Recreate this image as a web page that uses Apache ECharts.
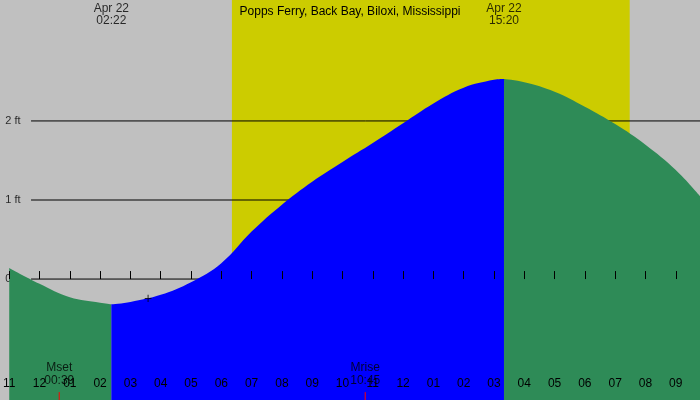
<!DOCTYPE html>
<html><head><meta charset="utf-8">
<script src="https://cdn.jsdelivr.net/npm/echarts@6/dist/echarts.min.js"></script>
<style>html,body{margin:0;padding:0;background:#c0c0c0}#c{width:700px;height:400px}</style>
</head><body><div id="c"></div>
<script>
// hours relative to Apr 22 00:00, tide height in ft
const fallingA = [[-1,0.14],[0,-0.06],[1,-0.23],[2,-0.30],[2.37,-0.32]];
const rising = [[2.37,-0.32],[3,-0.29],[4,-0.20],[5,-0.04],[6,0.20],[7,0.60],[8,0.94],[9,1.23],[10,1.48],[11,1.72],[12,1.97],[13,2.22],[14,2.42],[15,2.52],[15.33,2.53]];
const fallingB = [[15.33,2.53],[16,2.49],[17,2.37],[18,2.18],[19,1.96],[20,1.70],[21,1.38],[21.8,1.05]];
const ftLevels = [0,1,2];
const ftLabels = ['0 ft','1 ft','2 ft'];
const daylight = [6.35,19.48];
const tideEvents = [{h:2.37,text:'Apr 22\n02:22'},{h:15.33,text:'Apr 22\n15:20'}];
const moonEvents = [{h:0.65,text:'Mset\n00:39'},{h:10.75,text:'Mrise\n10:45'}];
const marker = [[3.58,-0.25]];
const title = 'Popps Ferry, Back Bay, Biloxi, Mississippi';
const YMIN=-1.53, YMAX=3.53, XMIN=-1, XMAX=21.8;

const ch = echarts.init(document.getElementById('c'));
const font = 'Liberation Sans, Arial, sans-serif';
const series = [];
series.push({type:'line',data:[],z:0,silent:true,
  markArea:{silent:true,itemStyle:{color:'#cccc00'},data:[[{xAxis:daylight[0]},{xAxis:daylight[1]}]]}});
ftLevels.forEach((v,i)=>{
  series.push({type:'line',z:1,symbol:'none',silent:true,lineStyle:{color:'#000',width:1},
    data:[[-0.28,v],[XMAX,v]],
    label:{show:false}});
});
series.push({type:'scatter',z:1,symbolSize:0,data:ftLevels.map((v,i)=>[XMIN,v,ftLabels[i]]),
  label:{show:true,position:'right',offset:[-9,0],formatter:p=>p.data[2],color:'#000',fontSize:11,fontFamily:font}});
const area=(d,c)=>({type:'line',z:2,smooth:0.4,symbol:'none',data:d,lineStyle:{width:0},
  areaStyle:{color:c,opacity:1,origin:'start'}});
series.push(area(fallingA,'#2e8b57'),area(rising,'#0000ff'),area(fallingB,'#2e8b57'));
series.push({type:'scatter',z:5,symbolSize:0,data:tideEvents.map(e=>[e.h,3.35,e.text]),
  label:{show:true,position:'inside',formatter:p=>p.data[2],color:'#000',fontSize:12,lineHeight:12,fontFamily:font}});
series.push({type:'scatter',z:5,symbolSize:0,data:moonEvents.map(e=>[e.h,-1.2,e.text]),
  label:{show:true,position:'inside',formatter:p=>p.data[2],color:'#000',fontSize:12,lineHeight:13,fontFamily:font}});
moonEvents.forEach(e=>series.push({type:'line',z:6,symbol:'none',lineStyle:{color:'#ff0000',width:1},data:[[e.h,YMIN],[e.h,YMIN+0.1]]}));
series.push({type:'scatter',z:6,symbolSize:0,data:marker,
  label:{show:true,position:'inside',formatter:'+',color:'#000',fontSize:14,fontFamily:font}});

ch.setOption({
  animation:false,backgroundColor:'#c0c0c0',
  title:{text:title,left:'center',top:1,textStyle:{fontSize:12,fontWeight:'normal',color:'#000',fontFamily:font}},
  grid:{left:0,right:0,top:0,bottom:0},
  xAxis:{type:'value',min:XMIN,max:XMAX,interval:1,
    axisLine:{show:false},splitLine:{show:false},
    axisTick:{show:true,inside:true,length:8,lineStyle:{color:'#000'}},
    axisLabel:{inside:true,margin:10,showMaxLabel:false,color:'#000',fontSize:12,fontFamily:font,
      formatter:v=>{let h=((Math.round(v)%12)+12)%12; if(h===0)h=12; return String(h).padStart(2,'0');}},
    z:10},
  yAxis:{type:'value',min:YMIN,max:YMAX,show:false},
  series
});
</script></body></html>
